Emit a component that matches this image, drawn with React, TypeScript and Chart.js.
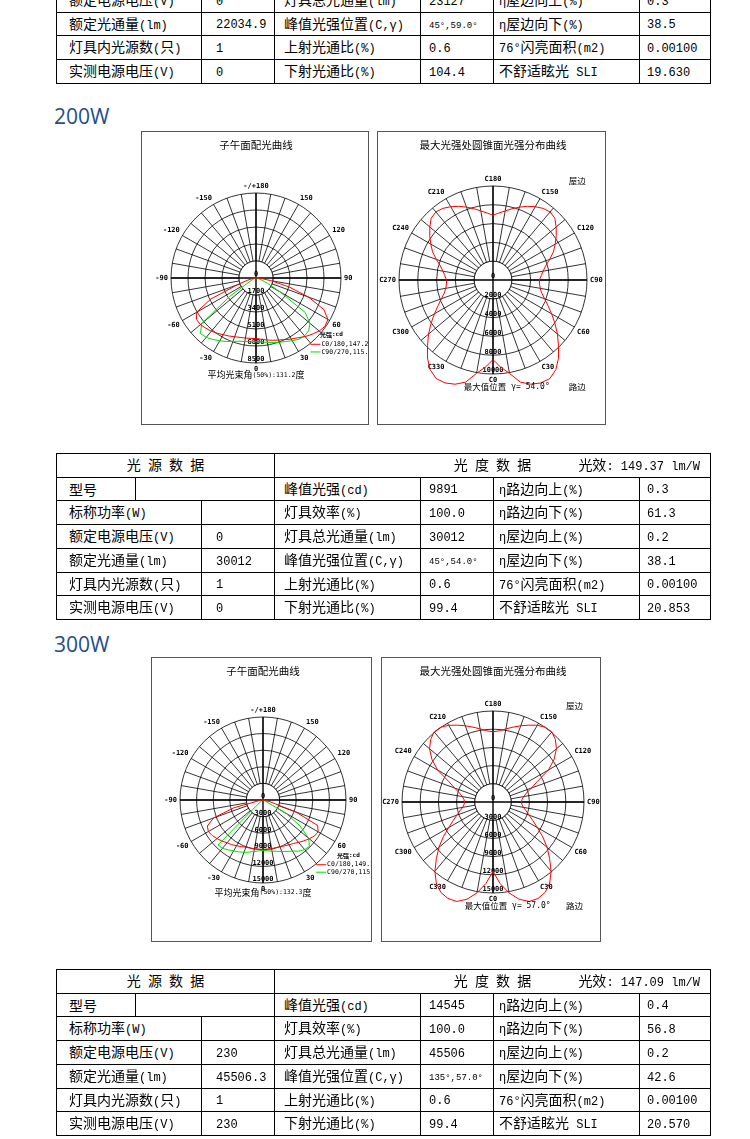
import React, { useEffect, useRef } from 'react';
import { Chart, registerables } from 'chart.js';

Chart.register(...registerables);

// ---------------- data ----------------
// Meridian-plane intensity (cd) for gamma = 0,5,...,180 degrees
const MER200_C0 = [6050, 6150, 6300, 6450, 6600, 6800, 7050, 7300, 7650, 7950, 8250, 8420, 8300, 7500, 5600, 3400, 1500, 500, 100, 0, 0, 0, 0, 0, 0, 0, 0, 0, 0, 0, 0, 0, 0, 0, 0, 0, 0];
const MER200_C180 = [6050, 6060, 6100, 6150, 6250, 6400, 6550, 6750, 6950, 7100, 7250, 7250, 6900, 5000, 2000, 900, 400, 150, 50, 0, 0, 0, 0, 0, 0, 0, 0, 0, 0, 0, 0, 0, 0, 0, 0, 0, 0];
const MER200_C90 = [6370, 6430, 6530, 6680, 6850, 7000, 7250, 7480, 7560, 7450, 7050, 6000, 2800, 1300, 600, 300, 150, 80, 30, 0, 0, 0, 0, 0, 0, 0, 0, 0, 0, 0, 0, 0, 0, 0, 0, 0, 0];
const MER200_C270 = [6370, 6400, 6460, 6540, 6750, 7000, 7250, 7500, 7750, 7850, 7100, 3200, 800, 350, 200, 100, 50, 0, 0, 0, 0, 0, 0, 0, 0, 0, 0, 0, 0, 0, 0, 0, 0, 0, 0, 0, 0];

const MER300_C0 = [8910, 8900, 8900, 8930, 8980, 9150, 9350, 9600, 10000, 10450, 10900, 11350, 11500, 10900, 6300, 1500, 500, 200, 80, 0, 0, 0, 0, 0, 0, 0, 0, 0, 0, 0, 0, 0, 0, 0, 0, 0, 0];
const MER300_C180 = [8910, 8920, 8950, 9000, 9070, 9300, 9550, 9850, 10100, 10500, 10850, 11200, 11400, 11100, 9500, 5500, 800, 300, 100, 0, 0, 0, 0, 0, 0, 0, 0, 0, 0, 0, 0, 0, 0, 0, 0, 0, 0];
const MER300_C90 = [9090, 9200, 9400, 9600, 9900, 10250, 10650, 11300, 11700, 11850, 10800, 8200, 4800, 300, 100, 50, 0, 0, 0, 0, 0, 0, 0, 0, 0, 0, 0, 0, 0, 0, 0, 0, 0, 0, 0, 0, 0];
const MER300_C270 = [9090, 9250, 9450, 9750, 10050, 10350, 10600, 11000, 11400, 11500, 1200, 400, 200, 100, 50, 0, 0, 0, 0, 0, 0, 0, 0, 0, 0, 0, 0, 0, 0, 0, 0, 0, 0, 0, 0, 0, 0];

// Cone (at max gamma) intensity (cd) for C = 0,5,...,355 degrees
const CONE200 = [
  8470, 9300, 10080, 11250, 11800, 12080, 12100, 11650, 10850, 9850, 8950, 8040, 7200, 6450, 5850, 5370, 5100, 4970,
  4940, 5150, 5400, 5800, 6420, 7090, 7640, 8220, 8770, 9300, 9450, 9300, 9000, 8650, 8250, 7850, 7460, 7150,
  6890, 7150, 7460, 7850, 8250, 8650, 9000, 9300, 9450, 9300, 8770, 8220, 7640, 7090, 6420, 5800, 5400, 5150,
  4940, 4970, 5100, 5370, 5850, 6450, 7200, 8040, 8950, 9850, 10850, 11650, 12100, 12080, 11800, 11250, 10080, 9300,
];
const CONE300 = [
  11460, 13500, 15200, 16600, 17450, 17550, 17200, 16300, 14900, 13200, 11650, 10000, 8450, 7240, 6350, 5640, 5080, 4790,
  4690, 4800, 5140, 5710, 6750, 8090, 10560, 12300, 13650, 14550, 15080, 15050, 14600, 13980, 13370, 12770, 12240, 11780,
  11570, 11780, 12240, 12770, 13370, 13980, 14600, 15050, 15080, 14550, 13650, 12300, 10560, 8090, 6750, 5710, 5140, 4800,
  4690, 4790, 5080, 5640, 6350, 7240, 8450, 10000, 11650, 13200, 14900, 16300, 17200, 17550, 17450, 16600, 15200, 13500,
];

// radial tick labels
const MER200_TICKS = [0, 1700, 3400, 5100, 6800, 8500];
const CONE200_TICKS = [0, 2000, 4000, 6000, 8000, 10000];
const MER300_TICKS = [0, 3000, 6000, 9000, 12000, 15000];
const CONE300_TICKS = [0, 3000, 6000, 9000, 12000, 15000];

// angle labels, every 30 deg clockwise from the top
const MERIDIAN_ANGLE_LABELS = ['-/+180', '150', '120', '90', '60', '30', '0', '-30', '-60', '-90', '-120', '-150'];
const CONE_ANGLE_LABELS = ['C180', 'C150', 'C120', 'C90', 'C60', 'C30', 'C0', 'C330', 'C300', 'C270', 'C240', 'C210'];

const LEGEND_200 = ['C0/180,147.2°', 'C90/270,115.2°'];
const LEGEND_300 = ['C0/180,149.2°', 'C90/270,115.4°'];
const BEAM_200 = '平均光束角(50%):131.2度';
const BEAM_300 = '平均光束角(50%):132.3度';
const MAXPOS_200 = '最大值位置 γ= 54.0°';
const MAXPOS_300 = '最大值位置 γ= 57.0°';

// tables
const TABLE_TOP_ROWS = [
  ['额定电源电压(V)', '0', '灯具总光通量(lm)', '23127', 'η屋边向上(%)', '0.3'],
  ['额定光通量(lm)', '22034.9', '峰值光强位置(C,γ)', '45°,59.0°', 'η屋边向下(%)', '38.5'],
  ['灯具内光源数(只)', '1', '上射光通比(%)', '0.6', '76°闪亮面积(m2)', '0.00100'],
  ['实测电源电压(V)', '0', '下射光通比(%)', '104.4', '不舒适眩光 SLI', '19.630'],
];
const TABLE_200_EFF = '光效: 149.37 lm/W';
const TABLE_200_ROWS = [
  ['型号', '', '峰值光强(cd)', '9891', 'η路边向上(%)', '0.3'],
  ['标称功率(W)', '', '灯具效率(%)', '100.0', 'η路边向下(%)', '61.3'],
  ['额定电源电压(V)', '0', '灯具总光通量(lm)', '30012', 'η屋边向上(%)', '0.2'],
  ['额定光通量(lm)', '30012', '峰值光强位置(C,γ)', '45°,54.0°', 'η屋边向下(%)', '38.1'],
  ['灯具内光源数(只)', '1', '上射光通比(%)', '0.6', '76°闪亮面积(m2)', '0.00100'],
  ['实测电源电压(V)', '0', '下射光通比(%)', '99.4', '不舒适眩光 SLI', '20.853'],
];
const TABLE_300_EFF = '光效: 147.09 lm/W';
const TABLE_300_ROWS = [
  ['型号', '', '峰值光强(cd)', '14545', 'η路边向上(%)', '0.4'],
  ['标称功率(W)', '', '灯具效率(%)', '100.0', 'η路边向下(%)', '56.8'],
  ['额定电源电压(V)', '230', '灯具总光通量(lm)', '45506', 'η屋边向上(%)', '0.2'],
  ['额定光通量(lm)', '45506.3', '峰值光强位置(C,γ)', '135°,57.0°', 'η屋边向下(%)', '42.6'],
  ['灯具内光源数(只)', '1', '上射光通比(%)', '0.6', '76°闪亮面积(m2)', '0.00100'],
  ['实测电源电压(V)', '230', '下射光通比(%)', '99.4', '不舒适眩光 SLI', '20.570'],
];

// ---------------- helpers ----------------
const SLOT_STEP = 5;
const ANGLE_SLOTS = Array.from({ length: 360 / SLOT_STEP }, (_, i) => String(i * SLOT_STEP));

// radar index i sits at a = 5i deg clockwise from top; gamma = 180 - a on the right, a - 180 on the left
function meridianRing(right: number[], left: number[]) {
  return ANGLE_SLOTS.map((_, i) => {
    const a = i * SLOT_STEP;
    return a <= 180 ? right[(180 - a) / SLOT_STEP] : left[(a - 180) / SLOT_STEP];
  });
}
// C0 at bottom, C90 right, C180 top
function coneRing(vals: number[]) {
  return ANGLE_SLOTS.map((_, i) => vals[((540 - i * SLOT_STEP) % 360) / SLOT_STEP]);
}

const CJK_RE = /[\u3000-\u303f\u4e00-\u9fff\uff00-\uffef]/;
function splitRuns(text: string) {
  const runs: { t: string; c: boolean; w?: number }[] = [];
  for (const ch of text) {
    const c = CJK_RE.test(ch);
    if (runs.length && runs[runs.length - 1].c === c) runs[runs.length - 1].t += ch;
    else runs.push({ t: ch, c });
  }
  return runs;
}
function drawMixed(ctx: any, text: string, x: number, y: number, cjkFont: string, latinFont: string, align: string) {
  const runs = splitRuns(text);
  let total = 0;
  for (const r of runs) {
    ctx.font = r.c ? cjkFont : latinFont;
    r.w = ctx.measureText(r.t).width;
    total += r.w as number;
  }
  let cur = align === 'left' ? x : align === 'center' ? x - total / 2 : x - total;
  ctx.textAlign = 'left';
  ctx.textBaseline = 'middle';
  for (const r of runs) {
    ctx.font = r.c ? cjkFont : latinFont;
    ctx.fillText(r.t, cur, y);
    cur += r.w as number;
  }
}

const MONO = '"DejaVu Sans Mono"';
const CJK = '"Noto Sans CJK SC"';

type PanelSpec = {
  kind: 'meridian' | 'cone';
  left: number; top: number; width: number; height: number;
  cx: number; cy: number; R: number;
  ticks: number[];
  series: { label: string; color: string; ring: number[] }[];
  title: string;
  angleLabels: string[];
  footer: string;
  footerDy?: number;
  legendTitleDx?: number;
};

function makeDecor(spec: PanelSpec) {
  return {
    id: 'polarDecor',
    beforeDatasetsDraw(chart: any) {
      const s = chart.scales.r;
      const ctx = chart.ctx;
      const cx = s.xCenter, cy = s.yCenter, R = s.drawingArea;
      const r1 = s.getDistanceFromCenterForValue(spec.ticks[1]);
      ctx.save();
      ctx.fillStyle = '#fff';
      ctx.beginPath();
      ctx.arc(cx, cy, r1, 0, Math.PI * 2);
      ctx.fill();
      ctx.strokeStyle = '#000';
      ctx.lineWidth = 0.8;
      ctx.stroke();
      ctx.lineWidth = 1.4;
      ctx.beginPath();
      ctx.moveTo(cx - R, cy); ctx.lineTo(cx + R, cy);
      ctx.moveTo(cx, cy - R); ctx.lineTo(cx, cy + R);
      ctx.stroke();
      ctx.fillStyle = '#000';
      ctx.font = `bold 7px ${MONO}`;
      ctx.textAlign = 'center';
      ctx.textBaseline = 'middle';
      spec.ticks.forEach((v) => {
        const d = s.getDistanceFromCenterForValue(v);
        ctx.fillText(String(v), cx, cy + d - 3.5);
      });
      spec.angleLabels.forEach((lab, k) => {
        const a = (k * 30 * Math.PI) / 180;
        const sa = Math.sin(a), ca = Math.cos(a);
        const d = R + 3;
        ctx.textAlign = sa > 0.05 ? 'left' : sa < -0.05 ? 'right' : 'center';
        ctx.textBaseline = ca > 0.05 ? 'bottom' : ca < -0.05 ? 'top' : 'middle';
        ctx.fillText(lab, cx + d * sa, cy - d * ca);
      });
      ctx.restore();
    },
    afterDraw(chart: any) {
      const s = chart.scales.r;
      const ctx = chart.ctx;
      const cx = s.xCenter, cy = s.yCenter, R = s.drawingArea;
      ctx.save();
      ctx.fillStyle = '#000';
      ctx.font = `10.5px ${CJK}`;
      ctx.textAlign = 'center';
      ctx.textBaseline = 'middle';
      ctx.fillText(spec.title, cx, 14);
      if (spec.kind === 'meridian') {
        drawMixed(ctx, '光强:cd', cx + (spec.legendTitleDx || 64), cy + 0.669 * R, `bold 6px ${CJK}`, `bold 6px ${MONO}`, 'left');
        spec.series.forEach((se, k) => {
          const y = cy + (0.78 + 0.09 * k) * R;
          const x0 = cx + 0.64 * R;
          ctx.strokeStyle = se.color;
          ctx.lineWidth = 1;
          ctx.beginPath();
          ctx.moveTo(x0, y); ctx.lineTo(x0 + 10, y);
          ctx.stroke();
          ctx.fillStyle = '#000';
          ctx.font = `6.5px ${MONO}`;
          ctx.textAlign = 'left';
          ctx.textBaseline = 'middle';
          ctx.fillText(se.label, x0 + 11, y);
        });
        drawMixed(ctx, spec.footer, cx, cy + (spec.footerDy || 96), `9px ${CJK}`, `6.5px ${MONO}`, 'center');
      } else {
        drawMixed(ctx, '屋边', cx + 0.896 * R, cy - 1.06 * R, `8.5px ${CJK}`, `8px ${MONO}`, 'center');
        drawMixed(ctx, '路边', cx + 0.896 * R, cy + 1.14 * R, `8.5px ${CJK}`, `8px ${MONO}`, 'center');
        drawMixed(ctx, spec.footer, cx - 0.31 * R, cy + 1.14 * R, `8.5px ${CJK}`, `8px ${MONO}`, 'left');
      }
      ctx.restore();
    },
  };
}

function Panel({ spec }: { spec: PanelSpec }) {
  const ref = useRef<HTMLCanvasElement | null>(null);
  useEffect(() => {
    const canvas = ref.current;
    if (!canvas) return;
    const R = spec.R;
    const padL = spec.cx - R;
    const padT = spec.cy - R;
    const padR = spec.width - padL - 2 * R;
    const padB = spec.height - padT - 2 * R;
    const tickMax = spec.ticks[spec.ticks.length - 1];
    const chart = new Chart(canvas, {
      type: 'radar',
      data: {
        labels: ANGLE_SLOTS,
        datasets: spec.series.map((se) => ({
          label: se.label,
          data: se.ring,
          borderColor: se.color,
          backgroundColor: 'rgba(0,0,0,0)',
          borderWidth: 1,
          pointRadius: 0,
          pointHoverRadius: 0,
          pointHitRadius: 0,
          fill: false,
          tension: 0,
          clip: false,
        })),
      },
      options: {
        responsive: false,
        animation: false,
        events: [],
        layout: { padding: { left: padL, top: padT, right: padR, bottom: padB } },
        plugins: { legend: { display: false }, tooltip: { enabled: false }, title: { display: false } },
        scales: {
          r: {
            min: 0,
            max: tickMax,
            ticks: { display: false, stepSize: spec.ticks[1] },
            grid: { circular: true, color: '#000', lineWidth: 0.8 },
            angleLines: {
              display: true,
              color: (c: any) => (c.index % 2 === 0 ? '#000' : 'rgba(0,0,0,0)'),
              lineWidth: (c: any) => (c.index % 2 === 0 ? 0.8 : 0),
            },
            pointLabels: { display: false },
          },
        },
      } as any,
      plugins: [makeDecor(spec)],
    } as any);
    return () => chart.destroy();
  }, [spec]);
  return (
    <>
      <canvas
        ref={ref}
        width={spec.width}
        height={spec.height}
        style={{ position: 'absolute', left: spec.left, top: spec.top, width: spec.width, height: spec.height }}
      />
      <div
        style={{
          position: 'absolute', left: spec.left, top: spec.top, width: spec.width, height: spec.height,
          border: '1.5px solid #555', boxSizing: 'border-box', pointerEvents: 'none',
        }}
      />
    </>
  );
}

const RED = '#ff0000';
const GREEN = '#00e000';

const P200_MER: PanelSpec = {
  kind: 'meridian', left: 141, top: 131, width: 228, height: 294, cx: 115, cy: 147, R: 85,
  ticks: MER200_TICKS,
  series: [
    { label: LEGEND_200[0], color: RED, ring: meridianRing(MER200_C0, MER200_C180) },
    { label: LEGEND_200[1], color: GREEN, ring: meridianRing(MER200_C90, MER200_C270) },
  ],
  title: '子午面配光曲线', angleLabels: MERIDIAN_ANGLE_LABELS, footer: BEAM_200, footerDy: 97, legendTitleDx: 64,
};
const P200_CONE: PanelSpec = {
  kind: 'cone', left: 377, top: 131, width: 229, height: 294, cx: 116, cy: 149, R: 94,
  ticks: CONE200_TICKS,
  series: [{ label: 'cone', color: RED, ring: coneRing(CONE200) }],
  title: '最大光强处圆锥面光强分布曲线', angleLabels: CONE_ANGLE_LABELS, footer: MAXPOS_200,
};
const P300_MER: PanelSpec = {
  kind: 'meridian', left: 151, top: 657, width: 221, height: 285, cx: 112, cy: 143, R: 83,
  ticks: MER300_TICKS,
  series: [
    { label: LEGEND_300[0], color: RED, ring: meridianRing(MER300_C0, MER300_C180) },
    { label: LEGEND_300[1], color: GREEN, ring: meridianRing(MER300_C90, MER300_C270) },
  ],
  title: '子午面配光曲线', angleLabels: MERIDIAN_ANGLE_LABELS, footer: BEAM_300, footerDy: 92.5, legendTitleDx: 74,
};
const P300_CONE: PanelSpec = {
  kind: 'cone', left: 381, top: 657, width: 220, height: 285, cx: 112, cy: 145, R: 91,
  ticks: CONE300_TICKS,
  series: [{ label: 'cone', color: RED, ring: coneRing(CONE300) }],
  title: '最大光强处圆锥面光强分布曲线', angleLabels: CONE_ANGLE_LABELS, footer: MAXPOS_300,
};

// ---------------- tables ----------------
const COL_X = [56, 135, 201, 274, 420, 493, 639, 710];
const CELL_PAD = [12, 14, 9, 8, 5, 7];
const LATIN_FONT = '"Liberation Mono", monospace';
const CJK_FONT = '"Noto Sans CJK SC", sans-serif';

function MixedText({ text, small }: { text: string; small?: boolean }) {
  return (
    <span style={{ whiteSpace: 'pre' }}>
      {splitRuns(text).map((r, i) => (
        <span
          key={i}
          style={{
            fontFamily: r.c ? CJK_FONT : LATIN_FONT,
            fontSize: small ? 9 : r.c ? 14 : 12,
          }}
        >
          {r.t}
        </span>
      ))}
    </span>
  );
}

function Cell({ x0, x1, y0, y1, pad, children, center }: any) {
  return (
    <div
      style={{
        position: 'absolute', left: x0, top: y0, width: x1 - x0 + 1, height: y1 - y0 + 1,
        border: '1px solid #000', boxSizing: 'border-box', display: 'flex', alignItems: 'center',
        justifyContent: center ? 'center' : 'flex-start', paddingLeft: center ? 0 : pad,
        color: '#000', whiteSpace: 'nowrap', overflow: 'hidden', lineHeight: '16px',
      }}
    >
      {children}
    </div>
  );
}

function DataTable({ top, rowH, eff, rows }: { top: number; rowH: number; eff?: string; rows: string[][] }) {
  const y = (k: number) => Math.round(top + k * rowH);
  const out: any[] = [];
  let r0 = 0;
  if (eff) {
    out.push(
      <Cell key="h0" x0={COL_X[0]} x1={COL_X[3]} y0={y(0)} y1={y(1)} center>
        <MixedText text="光 源 数 据" />
      </Cell>,
    );
    out.push(
      <Cell key="h1" x0={COL_X[3]} x1={COL_X[7]} y0={y(0)} y1={y(1)} center>
        <MixedText text="光 度 数 据" />
        <span style={{ position: 'absolute', right: 10 }}>
          <MixedText text={eff} />
        </span>
      </Cell>,
    );
    r0 = 1;
  }
  rows.forEach((row, i) => {
    const y0 = y(r0 + i), y1 = y(r0 + i + 1);
    const split = row[0] === '型号' ? 1 : 2;
    const xs = [COL_X[0], COL_X[split], COL_X[3], COL_X[4], COL_X[5], COL_X[6], COL_X[7]];
    row.forEach((txt, j) => {
      out.push(
        <Cell key={`${i}-${j}`} x0={xs[j]} x1={xs[j + 1]} y0={y0} y1={y1} pad={CELL_PAD[j]}>
          <MixedText text={txt} small={txt.indexOf('°,') >= 0} />
        </Cell>,
      );
    });
  });
  return <>{out}</>;
}

function Heading({ text, top }: { text: string; top: number }) {
  return (
    <div
      style={{
        position: 'absolute', left: 54, top, fontFamily: '"Open Sans", sans-serif', fontSize: 21,
        lineHeight: '21px', color: '#1f4e8c', whiteSpace: 'nowrap',
      }}
    >
      {text}
    </div>
  );
}

export default function App() {
  return (
    <div style={{ position: 'absolute', left: 0, top: 0, width: 750, height: 1139, overflow: 'hidden', background: '#fff' }}>
      <DataTable top={-11.7} rowH={23.55} rows={TABLE_TOP_ROWS} />
      <Heading text="200W" top={106.4} />
      <Panel spec={P200_MER} />
      <Panel spec={P200_CONE} />
      <DataTable top={453} rowH={23.7} eff={TABLE_200_EFF} rows={TABLE_200_ROWS} />
      <Heading text="300W" top={634.4} />
      <Panel spec={P300_MER} />
      <Panel spec={P300_CONE} />
      <DataTable top={969} rowH={23.7} eff={TABLE_300_EFF} rows={TABLE_300_ROWS} />
    </div>
  );
}
